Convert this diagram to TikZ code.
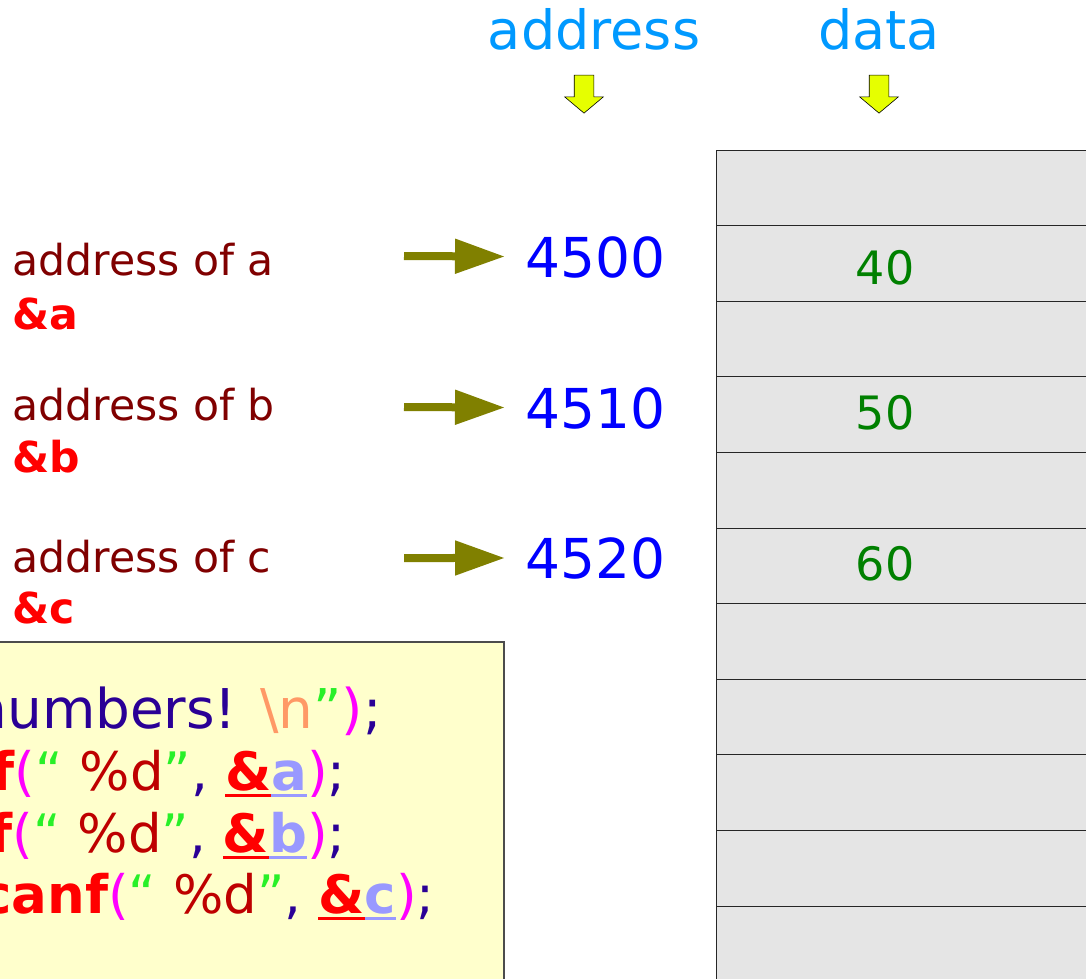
\documentclass[tikz,border=0pt]{standalone}
\usepackage{fontspec}
\setmainfont{DejaVu Sans}
\usetikzlibrary{arrows.meta,shapes.arrows}
\definecolor{headblue}{RGB}{0,153,255}
\definecolor{lblred}{RGB}{128,0,0}
\definecolor{valgreen}{RGB}{0,128,0}
\definecolor{ptrolive}{RGB}{128,128,0}
\definecolor{memgray}{RGB}{229,229,229}
\definecolor{codeyellow}{RGB}{255,255,204}
\definecolor{arrowyellow}{RGB}{230,255,0}
\definecolor{codenavy}{RGB}{42,0,150}
\definecolor{codeorange}{RGB}{255,153,102}
\definecolor{codegreen}{RGB}{40,240,40}
\definecolor{codered}{RGB}{190,0,0}
\definecolor{codelilac}{RGB}{153,153,255}
\definecolor{codemagenta}{RGB}{255,0,255}
\newcommand{\codeul}[1]{\setbox0\hbox{#1}\rlap{\rule[-3.6pt]{\wd0}{1.5pt}}\box0}
\newcommand{\oq}{{\color{codegreen}“}}
\newcommand{\cq}{{\color{codegreen}”}}
\newcommand{\lp}{{\color{codemagenta}(}}
\newcommand{\rp}{{\color{codemagenta})}}
\newcommand{\refvar}[1]{{\color{red}\codeul{\textbf{\&}}}{\color{codelilac}\codeul{\textbf{#1}}}}
\begin{document}
\begin{tikzpicture}[x=0.5pt,y=-0.5pt,
		head/.style={text=headblue,font=\fontsize{27}{32}\selectfont,anchor=base,inner sep=0pt},
		downarrow/.style={shape=single arrow,rotate=-90,draw=black,line width=0.3pt,fill=arrowyellow,
			minimum height=19pt,inner sep=4.75pt,single arrow head extend=4.75pt,single arrow tip angle=100},
		cell/.style={draw=black!85,fill=memgray,line width=0.5pt,minimum width=200pt,minimum height=37.8pt,inner sep=0pt},
		val/.style={text=valgreen,font=\fontsize{23}{28}\selectfont,inner sep=0pt},
		lbl/.style={text=lblred,font=\fontsize{21.3}{26}\selectfont,anchor=base west,inner sep=0pt},
		amp/.style={text=red,font=\fontsize{21.3}{26}\selectfont\bfseries,anchor=base west,inner sep=0pt},
		num/.style={text=blue,font=\fontsize{27.5}{33}\selectfont,anchor=base west,inner sep=0pt},
		ptr/.style={draw=ptrolive,line width=4pt,-{Triangle[length=25pt,width=16.5pt]},shorten >=10pt},
		code/.style={font=\fontsize{26.5}{31}\selectfont,anchor=base east,inner sep=0pt}]
	\useasboundingbox (0,0) rectangle (1086,979);
	\clip (0,0) rectangle (1086,979);
	% headings
	\node[head] (hAddr) at (594,50) {address};
	\node[head] (hData) at (879,50) {data};
	\node[downarrow] (dnAddr) at (584,90) {};
	\node[downarrow] (dnData) at (879,90) {};
	% memory
	\foreach \i in {0,...,10}
		\node[cell] (cell\i) at (916,{150+75.6*\i+37.8}) {};
	\node[val] (valA) at (885,268) {40};
	\node[val] (valB) at (885,413) {50};
	\node[val] (valC) at (885,564) {60};
	% variables
	\node[lbl] (lblA) at (12,275) {address of a};
	\node[amp] (refA) at (12,329) {\&a};
	\node[lbl] (lblB) at (12,420) {address of b};
	\node[amp] (refB) at (12,472) {\&b};
	\node[lbl] (lblC) at (12,572) {address of c};
	\node[amp] (refC) at (12,623) {\&c};
	\node[num] (numA) at (525,277) {4500};
	\node[num] (numB) at (525,428) {4510};
	\node[num] (numC) at (525,578) {4520};
	\coordinate (ptrA) at (404,256);
	\coordinate (ptrB) at (404,407);
	\coordinate (ptrC) at (404,558);
	\draw[ptr] (ptrA) -- (numA);
	\draw[ptr] (ptrB) -- (numB);
	\draw[ptr] (ptrC) -- (numC);
	% code
	\draw[draw=black!70,fill=codeyellow,line width=0.6pt] (-20,642) rectangle (504,1000);
	\node[code,font=\fontsize{27.4}{32}\selectfont] (line1) at (382,728)
		{\color{codenavy}numbers! {\color{codeorange}\textbackslash n}\cq\rp;};
	\node[code] (line2) at (346,790)
		{{\color{red}\bfseries f}\lp\oq{} {\color{codered}\%d}\cq{\color{codenavy},} \refvar{a}\rp{\color{codenavy};}};
	\node[code] (line3) at (346,852)
		{{\color{red}\bfseries f}\lp\oq{} {\color{codered}\%d}\cq{\color{codenavy},} \refvar{b}\rp{\color{codenavy};}};
	\node[code] (line4) at (435,913)
		{{\color{red}\bfseries canf}\lp\oq{} {\color{codered}\%d}\cq{\color{codenavy},} \refvar{c}\rp{\color{codenavy};}};
\end{tikzpicture}
\end{document}
